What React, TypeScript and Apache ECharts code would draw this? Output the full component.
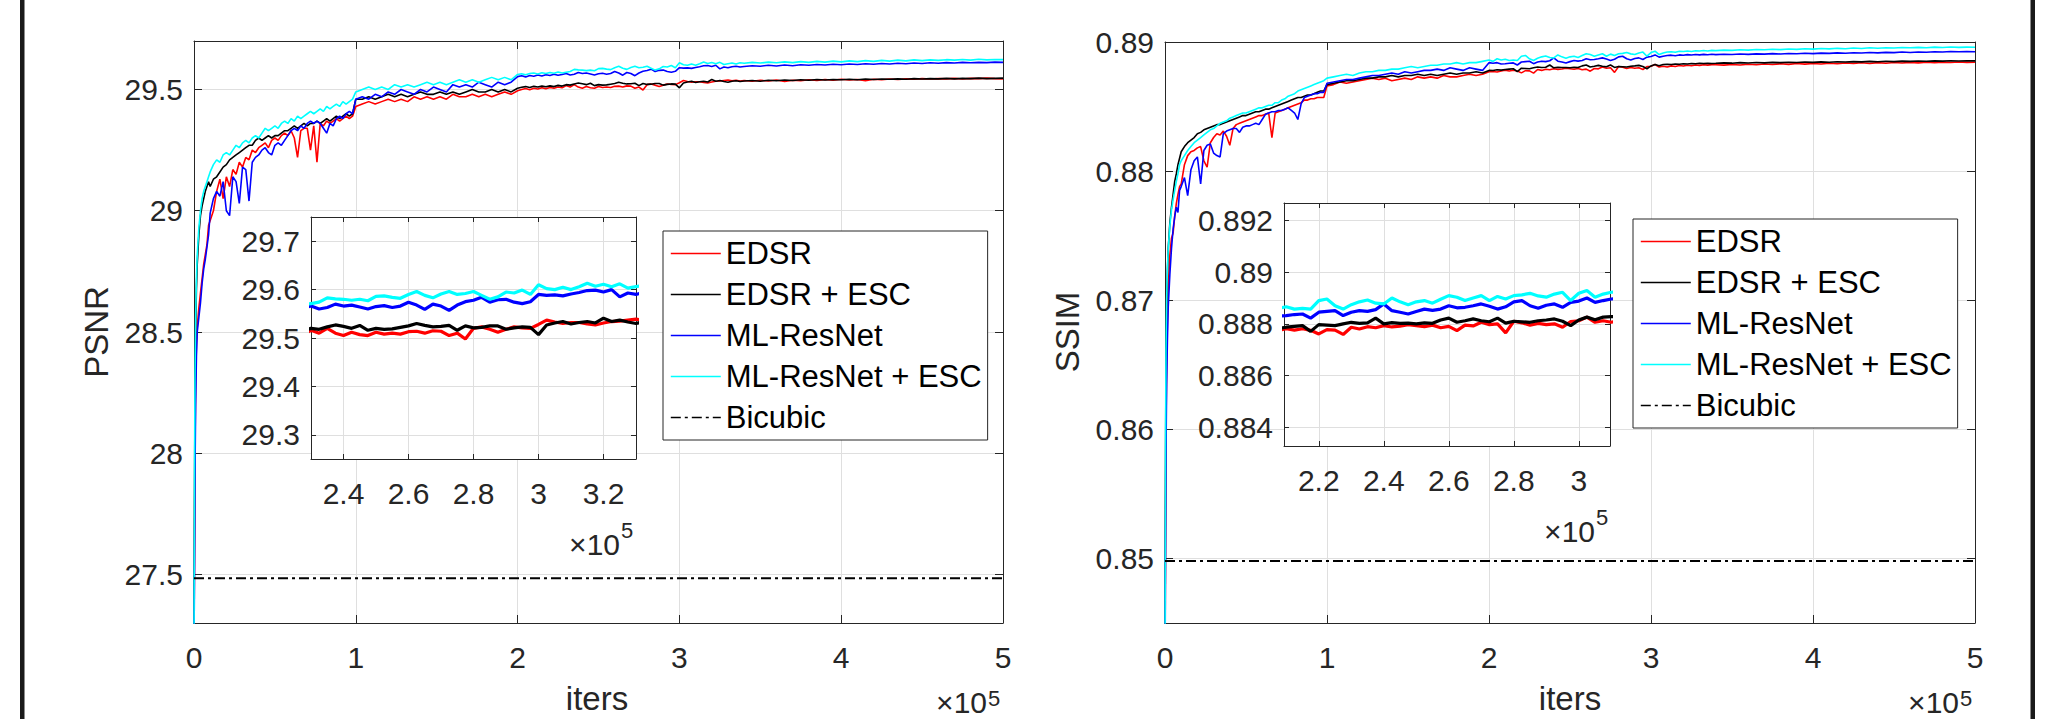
import React, { useEffect, useRef } from 'react';
import * as echarts from 'echarts';

// iterations, in units of 1e5
const ITERS = [
  0, 0.003, 0.006, 0.01, 0.015, 0.02, 0.03, 0.04, 0.05, 0.06, 0.07, 0.08, 0.09,
  0.1, 0.12, 0.14, 0.16, 0.18, 0.2, 0.22, 0.24, 0.26, 0.28, 0.3, 0.32, 0.34, 0.36, 0.38, 0.4, 0.42, 0.44, 0.46, 0.48, 0.5, 0.52, 0.54, 0.56, 0.58, 0.6, 0.62, 0.64, 0.66, 0.68, 0.7, 0.72, 0.74, 0.76, 0.78, 0.8, 0.82, 0.84, 0.86, 0.88, 0.9, 0.92, 0.94, 0.96, 0.98,
  1, 1.04, 1.08, 1.12, 1.16, 1.2, 1.24, 1.28, 1.32, 1.36, 1.4, 1.44, 1.48, 1.52, 1.56, 1.6, 1.64, 1.68, 1.72, 1.76, 1.8, 1.84, 1.88, 1.92, 1.96,
  2, 2.025, 2.05, 2.075, 2.1, 2.125, 2.15, 2.175, 2.2, 2.225, 2.25, 2.275, 2.3, 2.325, 2.35, 2.375, 2.4, 2.425, 2.45, 2.475, 2.5, 2.525, 2.55, 2.575, 2.6, 2.625, 2.65, 2.675, 2.7, 2.725, 2.75, 2.775, 2.8, 2.825, 2.85, 2.875, 2.9, 2.925, 2.95, 2.975, 3, 3.025, 3.05, 3.075, 3.1, 3.125, 3.15, 3.175, 3.2, 3.225, 3.25, 3.275, 3.3, 3.325, 3.35, 3.375,
  3.4, 3.45, 3.5, 3.55, 3.6, 3.65, 3.7, 3.75, 3.8, 3.85, 3.9, 3.95, 4, 4.05, 4.1, 4.15, 4.2, 4.25, 4.3, 4.35, 4.4, 4.45, 4.5, 4.55, 4.6, 4.65, 4.7, 4.75, 4.8, 4.85, 4.9, 4.95, 5,
];

const PSNR_EDSR = [
  27.2, 27.6, 28.0, 28.3, 28.45, 28.52, 28.6, 28.66, 28.72, 28.78, 28.82, 28.86, 28.94,
  28.96, 29.0, 29.08, 29.13, 29.05, 29.14, 29.1, 29.17, 29.15, 29.2, 29.18, 29.22, 29.21, 29.25, 29.24, 29.26, 29.27, 29.28, 29.26, 29.29, 29.3, 29.29, 29.31, 29.32, 29.31, 29.33, 29.3, 29.22, 29.33, 29.34, 29.34, 29.25, 29.35, 29.2, 29.36, 29.35, 29.37, 29.36, 29.37, 29.38, 29.37, 29.38, 29.39, 29.38, 29.39,
  29.43, 29.44, 29.45, 29.44, 29.45, 29.46, 29.45, 29.46, 29.45, 29.47, 29.46, 29.47, 29.46, 29.47, 29.46, 29.48, 29.47, 29.47, 29.48, 29.47, 29.48, 29.47, 29.48, 29.49, 29.48,
  29.495, 29.5, 29.504, 29.499, 29.505, 29.502, 29.507, 29.503, 29.508, 29.505, 29.51, 29.507,
  29.516, 29.51, 29.52, 29.51, 29.505, 29.512, 29.507, 29.505, 29.512, 29.508, 29.51, 29.508,
  29.513, 29.514, 29.51, 29.515, 29.514, 29.505, 29.51, 29.498, 29.52, 29.523, 29.518, 29.512,
  29.518, 29.523, 29.521, 29.52, 29.528, 29.537, 29.533, 29.53, 29.532, 29.532, 29.529, 29.527,
  29.531, 29.534, 29.535, 29.537, 29.539, 29.536, 29.538, 29.535,
  29.537, 29.534, 29.538, 29.535, 29.539, 29.533, 29.538, 29.536, 29.54, 29.537, 29.541, 29.538, 29.542, 29.539, 29.541, 29.536, 29.542, 29.54, 29.543, 29.541, 29.544, 29.542, 29.545, 29.543, 29.545, 29.544, 29.546, 29.543, 29.546, 29.545, 29.547, 29.545, 29.544,
];

const PSNR_EDSR_ESC = [
  27.2, 27.8, 28.2, 28.5, 28.68, 28.78, 28.9, 28.98, 29.02, 29.05, 29.08, 29.1, 29.12,
  29.1, 29.13, 29.14, 29.16, 29.18, 29.19, 29.21, 29.22, 29.23, 29.24, 29.25, 29.26, 29.27, 29.27, 29.29, 29.3, 29.29, 29.3, 29.31, 29.3, 29.31, 29.31, 29.32, 29.33, 29.33, 29.34, 29.35, 29.34, 29.35, 29.36, 29.35, 29.36, 29.36, 29.37, 29.36, 29.37, 29.38, 29.37, 29.38, 29.39, 29.38, 29.39, 29.4, 29.39, 29.4,
  29.46, 29.46, 29.47, 29.46, 29.47, 29.48, 29.47, 29.48, 29.47, 29.48, 29.49, 29.48, 29.48, 29.49, 29.48, 29.49, 29.48, 29.49, 29.5, 29.49, 29.49, 29.5, 29.49, 29.5, 29.49,
  29.505, 29.509, 29.512, 29.508, 29.513, 29.51, 29.514, 29.511, 29.515, 29.512, 29.517, 29.514,
  29.52, 29.518, 29.523, 29.527, 29.524, 29.52, 29.526, 29.516, 29.52, 29.518, 29.519, 29.522,
  29.525, 29.53, 29.526, 29.523, 29.524, 29.526, 29.516, 29.525, 29.521, 29.522, 29.525, 29.525,
  29.518, 29.521, 29.523, 29.522, 29.507, 29.527, 29.531, 29.534, 29.529, 29.532, 29.534, 29.531,
  29.541, 29.534, 29.537, 29.533, 29.53, 29.534, 29.536, 29.533,
  29.535, 29.537, 29.534, 29.538, 29.536, 29.539, 29.537, 29.54, 29.538, 29.541, 29.539, 29.541, 29.54, 29.542, 29.54, 29.543, 29.541, 29.543, 29.542, 29.544, 29.542, 29.545, 29.543, 29.545, 29.544, 29.546, 29.544, 29.546, 29.545, 29.547, 29.545, 29.546, 29.547,
];

const PSNR_MLRES = [
  27.2, 27.5, 27.9, 28.2, 28.4, 28.5, 28.56, 28.62, 28.7, 28.76, 28.8, 28.85, 28.9,
  28.99, 29.05, 29.08, 29.06, 29.12, 29.0, 28.98, 29.14, 29.12, 29.03, 29.18, 29.17, 29.04, 29.2, 29.22, 29.23, 29.25, 29.26, 29.24, 29.23, 29.27, 29.28, 29.27, 29.29, 29.31, 29.33, 29.34, 29.33, 29.35, 29.34, 29.36, 29.37, 29.36, 29.37, 29.36, 29.34, 29.32, 29.36, 29.35, 29.38, 29.39, 29.38, 29.4, 29.41, 29.4,
  29.46, 29.47, 29.46, 29.48, 29.47, 29.49, 29.48, 29.5, 29.49, 29.48, 29.5, 29.49, 29.51, 29.5, 29.49, 29.52, 29.51, 29.52, 29.51, 29.53, 29.52, 29.51, 29.53, 29.52, 29.53,
  29.553, 29.557, 29.552, 29.558, 29.555, 29.56, 29.556, 29.561, 29.558, 29.563, 29.559, 29.562,
  29.566, 29.56, 29.563, 29.57, 29.566, 29.568, 29.564, 29.56, 29.565, 29.567, 29.563, 29.566,
  29.574, 29.568, 29.559, 29.57, 29.566, 29.557, 29.568, 29.575, 29.578, 29.584, 29.574, 29.579,
  29.58, 29.574, 29.571, 29.575, 29.59, 29.588, 29.589, 29.587, 29.591, 29.594, 29.598, 29.599,
  29.595, 29.6, 29.585, 29.593, 29.59, 29.594, 29.596, 29.593,
  29.595, 29.598, 29.596, 29.6, 29.597, 29.601, 29.598, 29.602, 29.6, 29.603, 29.601, 29.604, 29.602, 29.605, 29.603, 29.606, 29.604, 29.607, 29.605, 29.608, 29.606, 29.609, 29.607, 29.61, 29.608, 29.611, 29.609, 29.612, 29.61, 29.612, 29.611, 29.613, 29.612,
];

const PSNR_MLRES_ESC = [
  27.2, 27.9, 28.3, 28.55, 28.72, 28.82, 28.93, 29.0, 29.05, 29.08, 29.1, 29.12, 29.14,
  29.16, 29.19, 29.21, 29.2, 29.23, 29.24, 29.23, 29.25, 29.27, 29.26, 29.28, 29.29, 29.28, 29.3, 29.31, 29.3, 29.32, 29.34, 29.33, 29.34, 29.35, 29.34, 29.36, 29.37, 29.36, 29.38, 29.37, 29.39, 29.38, 29.39, 29.4, 29.41, 29.4, 29.41, 29.42, 29.41, 29.43, 29.42, 29.43, 29.44, 29.43, 29.45, 29.44, 29.45, 29.46,
  29.49, 29.5, 29.51, 29.5, 29.51, 29.5, 29.52, 29.51, 29.52, 29.51, 29.52, 29.53, 29.52, 29.53, 29.52, 29.53, 29.54, 29.53, 29.54, 29.53, 29.54, 29.55, 29.54, 29.55, 29.54,
  29.562, 29.565, 29.561, 29.566, 29.568, 29.564, 29.569, 29.566, 29.57, 29.567, 29.572, 29.568,
  29.571, 29.574, 29.583, 29.581, 29.58, 29.578, 29.58, 29.577, 29.586, 29.587, 29.584, 29.582,
  29.59, 29.596, 29.588, 29.583, 29.591, 29.596, 29.59, 29.592, 29.596, 29.588, 29.58, 29.585,
  29.595, 29.593, 29.599, 29.59, 29.61, 29.602, 29.6, 29.605, 29.6, 29.606, 29.613, 29.607,
  29.611, 29.606, 29.612, 29.603, 29.606, 29.609, 29.605, 29.61,
  29.608, 29.612, 29.609, 29.613, 29.61, 29.614, 29.611, 29.615, 29.612, 29.616, 29.613, 29.617, 29.614, 29.618, 29.615, 29.619, 29.616, 29.62, 29.617, 29.621, 29.618, 29.622, 29.619, 29.622, 29.62, 29.623, 29.621, 29.624, 29.621, 29.625, 29.622, 29.624, 29.623,
];

const SSIM_EDSR = [
  0.84, 0.852, 0.86, 0.865, 0.8685, 0.871, 0.8735, 0.8748, 0.8752, 0.8765, 0.8775, 0.8782, 0.8788,
  0.879, 0.8805, 0.8812, 0.8815, 0.8816, 0.8818, 0.8819, 0.8808, 0.8803, 0.8822, 0.8826, 0.8829, 0.8828, 0.8831, 0.8827, 0.882, 0.8833, 0.8836, 0.8837, 0.8838, 0.8839, 0.884, 0.8841, 0.8842, 0.8843, 0.8843, 0.8844, 0.8845, 0.8826, 0.8845, 0.8846, 0.8847, 0.8848, 0.8849, 0.885, 0.8851, 0.8852, 0.8853, 0.8855, 0.8855, 0.8856, 0.8856, 0.8857, 0.8857, 0.8857,
  0.8866, 0.8867, 0.8869, 0.8868, 0.8869, 0.887, 0.8871, 0.8872, 0.8871, 0.8872, 0.887, 0.8871, 0.8872, 0.8871, 0.8873, 0.8872, 0.8873, 0.8872, 0.8874, 0.8873, 0.8873, 0.8874, 0.8875, 0.8874, 0.8875,
  0.8877, 0.88772, 0.88768, 0.88775, 0.88781, 0.88776, 0.88781, 0.88775, 0.88761, 0.88778, 0.88776, 0.88759,
  0.88787, 0.8878, 0.88789, 0.88785, 0.88793, 0.88788, 0.88791, 0.88797, 0.88793, 0.88789, 0.88795, 0.88785,
  0.8879, 0.88774, 0.88795, 0.88792, 0.88806, 0.88797, 0.888, 0.88765, 0.8881, 0.88804, 0.88795, 0.88802,
  0.88797, 0.888, 0.88787, 0.88809, 0.88812, 0.88826, 0.88806, 0.88812, 0.88806, 0.88815, 0.8881, 0.88818,
  0.88814, 0.8882, 0.88816, 0.88822, 0.88819, 0.88824, 0.88821, 0.88825,
  0.88824, 0.88821, 0.88826, 0.88822, 0.88828, 0.88824, 0.8883, 0.88826, 0.88831, 0.88827, 0.88833, 0.88829, 0.88834, 0.8883, 0.88836, 0.88831, 0.88837, 0.88833, 0.88839, 0.88834, 0.8884, 0.88836, 0.88841, 0.88837, 0.88842, 0.88838, 0.88843, 0.8884, 0.88844, 0.88841, 0.88845, 0.88842, 0.88843,
];

const SSIM_EDSR_ESC = [
  0.84, 0.856, 0.865, 0.8695, 0.8722, 0.874, 0.876, 0.8772, 0.8782, 0.8792, 0.8798, 0.8805, 0.881,
  0.8815, 0.8819, 0.8822, 0.8824, 0.8826, 0.8829, 0.883, 0.8832, 0.8833, 0.8834, 0.8835, 0.8836, 0.8836, 0.8837, 0.8838, 0.8839, 0.884, 0.8841, 0.8842, 0.8843, 0.8843, 0.8844, 0.8845, 0.8846, 0.8846, 0.8847, 0.8848, 0.8848, 0.8849, 0.885, 0.8851, 0.8852, 0.8853, 0.8854, 0.8855, 0.8856, 0.8857, 0.8857, 0.8858, 0.8859, 0.8859, 0.886, 0.8861, 0.8862, 0.8862,
  0.8867, 0.8868, 0.8869, 0.887, 0.887, 0.8871, 0.8872, 0.8872, 0.8873, 0.8873, 0.8874, 0.8873, 0.8874, 0.8874, 0.8875, 0.8874, 0.8875, 0.8874, 0.8875, 0.8876, 0.8875, 0.8876, 0.8876, 0.8877, 0.8876,
  0.8878, 0.88779, 0.88785, 0.88782, 0.88787, 0.8879, 0.88793, 0.88771, 0.88797, 0.88795, 0.88793, 0.888,
  0.88806, 0.88802, 0.88804, 0.88822, 0.888, 0.88805, 0.88802, 0.88803, 0.888, 0.88804, 0.88802, 0.88815,
  0.88822, 0.88806, 0.88812, 0.88819, 0.88812, 0.88808, 0.88822, 0.88803, 0.8881, 0.88808, 0.88806, 0.88812,
  0.88815, 0.88819, 0.8881, 0.88793, 0.88815, 0.88826, 0.88816, 0.88826, 0.88828, 0.88826, 0.8883, 0.88828,
  0.88832, 0.8883, 0.88834, 0.88831, 0.88835, 0.88833, 0.88836, 0.88834,
  0.88835, 0.88838, 0.88836, 0.8884, 0.88837, 0.88841, 0.88838, 0.88842, 0.8884, 0.88843, 0.88841, 0.88845, 0.88842, 0.88846, 0.88843, 0.88847, 0.88845, 0.88848, 0.88846, 0.8885, 0.88847, 0.88851, 0.88848, 0.88852, 0.8885, 0.88853, 0.88851, 0.88854, 0.88852, 0.88855, 0.88853, 0.88855, 0.88854,
];

const SSIM_MLRES = [
  0.84, 0.85, 0.858, 0.8635, 0.867, 0.8695, 0.872, 0.874, 0.8755, 0.8765, 0.8772, 0.8768, 0.8785,
  0.8788, 0.8795, 0.8781, 0.8801, 0.8808, 0.8811, 0.879, 0.8816, 0.882, 0.8821, 0.8814, 0.8812, 0.8811, 0.8829, 0.8831, 0.8832, 0.8833, 0.8833, 0.883, 0.8834, 0.8835, 0.8835, 0.8836, 0.8837, 0.8836, 0.884, 0.8844, 0.8845, 0.8846, 0.8846, 0.8847, 0.8847, 0.8848, 0.8849, 0.8847, 0.8845, 0.884, 0.8852, 0.8857, 0.8858, 0.8859, 0.886, 0.886, 0.8861, 0.8861,
  0.8868, 0.8869, 0.887, 0.8871, 0.8871, 0.8872, 0.8873, 0.8874, 0.8874, 0.8875, 0.8876, 0.8875, 0.8877, 0.8876, 0.8877, 0.8878, 0.8878, 0.8879, 0.8878, 0.888, 0.8879, 0.8878, 0.888, 0.8879, 0.8878,
  0.8884, 0.88835, 0.8884, 0.8883, 0.88832, 0.88836, 0.88838, 0.88822, 0.88845, 0.88848, 0.88851, 0.88832,
  0.88845, 0.88851, 0.88848, 0.88855, 0.88877, 0.88851, 0.88845, 0.88838, 0.88848, 0.88857, 0.88852, 0.88857,
  0.8887, 0.88862, 0.88864, 0.8887, 0.88877, 0.88868, 0.88857, 0.88866, 0.88885, 0.8889, 0.8887, 0.8886,
  0.88872, 0.88877, 0.88864, 0.88883, 0.88888, 0.889, 0.88883, 0.8889, 0.88896, 0.88898, 0.88894, 0.889,
  0.88897, 0.88902, 0.88899, 0.88903, 0.889, 0.88904, 0.88901, 0.88905,
  0.88902, 0.88905, 0.88903, 0.88907, 0.88904, 0.88908, 0.88906, 0.8891, 0.88907, 0.88911, 0.88909, 0.88913, 0.8891, 0.88914, 0.88912, 0.88916, 0.88913, 0.88917, 0.88915, 0.88919, 0.88916, 0.8892, 0.88918, 0.88922, 0.88919, 0.88923, 0.88921, 0.88925, 0.88922, 0.88926, 0.88924, 0.88927, 0.88925,
];

const SSIM_MLRES_ESC = [
  0.84, 0.858, 0.866, 0.87, 0.8725, 0.874, 0.8758, 0.877, 0.8778, 0.8785, 0.8792, 0.8798, 0.8805,
  0.8808, 0.8812, 0.8816, 0.8819, 0.8822, 0.8824, 0.8826, 0.8828, 0.883, 0.8832, 0.8833, 0.8835, 0.8837, 0.8838, 0.8839, 0.8841, 0.8842, 0.8843, 0.8844, 0.8845, 0.8845, 0.8846, 0.8847, 0.8848, 0.8849, 0.8849, 0.885, 0.8851, 0.8851, 0.8853, 0.8853, 0.8855, 0.8856, 0.8858, 0.8859, 0.886, 0.8862, 0.8863, 0.8864, 0.8865, 0.8866, 0.8867, 0.8868, 0.8869, 0.887,
  0.8872, 0.8873, 0.8874, 0.8875, 0.8874, 0.8876, 0.8877, 0.8877, 0.8878, 0.8878, 0.8879, 0.8879, 0.888, 0.8881, 0.888, 0.8881, 0.8882, 0.8882, 0.8883, 0.8883, 0.8884, 0.8883, 0.8884, 0.8884, 0.8885,
  0.8886, 0.8885, 0.8887, 0.8886, 0.88866, 0.88857, 0.8886, 0.88857, 0.8889, 0.88896, 0.8887, 0.88857,
  0.88874, 0.88885, 0.88892, 0.8888, 0.88877, 0.889, 0.88885, 0.88874, 0.88885, 0.8889, 0.8888, 0.88895,
  0.88909, 0.88903, 0.8889, 0.889, 0.88909, 0.8889, 0.88906, 0.88896, 0.88909, 0.88912, 0.88918, 0.88908,
  0.88903, 0.88915, 0.88922, 0.8889, 0.88918, 0.88929, 0.88903, 0.88915, 0.88922, 0.88925, 0.8892, 0.88928,
  0.88926, 0.8893, 0.88927, 0.88932, 0.8893, 0.88934, 0.8893, 0.88935,
  0.88933, 0.88937, 0.88935, 0.8894, 0.88937, 0.88942, 0.8894, 0.88944, 0.88941, 0.88946, 0.88943, 0.88948, 0.88945, 0.8895, 0.88947, 0.88951, 0.88948, 0.88953, 0.8895, 0.88955, 0.88952, 0.88956, 0.88953, 0.88957, 0.88955, 0.88958, 0.88956, 0.8896, 0.88957, 0.88961, 0.88958, 0.8896, 0.88959,
];

const BICUBIC_PSNR = 27.485;
const BICUBIC_SSIM = 0.8498;

const SERIES_NAMES = ['EDSR', 'EDSR + ESC', 'ML-ResNet', 'ML-ResNet + ESC', 'Bicubic'];
const SERIES_COLORS = ['#ff0000', '#000000', '#0000ff', '#00ffff', '#000000'];

const ITER_TICKS = [0, 1, 2, 3, 4, 5];
const PSNR_TICKS = [27.5, 28, 28.5, 29, 29.5];
const PSNR_INSET_X_TICKS = [2.4, 2.6, 2.8, 3, 3.2];
const PSNR_INSET_Y_TICKS = [29.3, 29.4, 29.5, 29.6, 29.7];
const SSIM_TICKS = [0.85, 0.86, 0.87, 0.88, 0.89];
const SSIM_INSET_X_TICKS = [2.2, 2.4, 2.6, 2.8, 3];
const SSIM_INSET_Y_TICKS = [0.884, 0.886, 0.888, 0.89, 0.892];

const FONT = '"Liberation Sans", Arial, Helvetica, sans-serif';
const AX = '#262626';
const GRIDC = '#dfdfdf';

const fmt = (v: number) => String(Number(Number(v).toPrecision(6)));

function makeXAxes(gi: number, min: number, max: number, ticks: number[], tickLen: number, z: number) {
  const common = {
    type: 'value', gridIndex: gi, min, max, z,
    axisLine: { show: true, onZero: false, lineStyle: { color: AX, width: 1 } },
    axisTick: { show: true, inside: true, length: tickLen, customValues: ticks, lineStyle: { color: AX, width: 1 } },
  };
  return [
    {
      ...common, position: 'bottom',
      axisLabel: { show: true, customValues: ticks, formatter: fmt, margin: 19, color: AX, fontSize: 30, fontFamily: FONT, hideOverlap: false },
      splitLine: { show: true, lineStyle: { color: GRIDC, width: 1 } },
    },
    { ...common, position: 'top', axisLabel: { show: false }, splitLine: { show: false } },
  ];
}

function makeYAxes(gi: number, min: number, max: number, ticks: number[], tickLen: number, z: number) {
  const common = {
    type: 'value', gridIndex: gi, min, max, z, scale: true,
    axisLine: { show: true, onZero: false, lineStyle: { color: AX, width: 1 } },
    axisTick: { show: true, inside: true, length: tickLen, customValues: ticks, lineStyle: { color: AX, width: 1 } },
  };
  return [
    {
      ...common, position: 'left',
      axisLabel: { show: true, customValues: ticks, formatter: fmt, margin: 11, color: AX, fontSize: 30, fontFamily: FONT, hideOverlap: false },
      splitLine: { show: true, lineStyle: { color: GRIDC, width: 1 } },
    },
    { ...common, position: 'right', axisLabel: { show: false }, splitLine: { show: false } },
  ];
}

const pairs = (ys: number[]) => ITERS.map((x, i) => [x, ys[i]]);

function makeSeries(values: number[][], bicubic: number, mainGrid: number, insetGrid: number) {
  const out: any[] = [];
  values.forEach((ys, k) => {
    out.push({
      type: 'line', name: SERIES_NAMES[k], data: pairs(ys),
      xAxisIndex: mainGrid * 2, yAxisIndex: mainGrid * 2,
      showSymbol: false, symbol: 'none', silent: true, clip: true, z: 2 + k,
      lineStyle: { color: SERIES_COLORS[k], width: 1.6 }, itemStyle: { color: SERIES_COLORS[k] },
    });
  });
  out.push({
    type: 'line', name: SERIES_NAMES[4],
    data: [[ITERS[0], bicubic], [ITERS[ITERS.length - 1], bicubic]],
    xAxisIndex: mainGrid * 2, yAxisIndex: mainGrid * 2,
    showSymbol: false, symbol: 'none', silent: true, clip: true, z: 6,
    lineStyle: { color: SERIES_COLORS[4], width: 2, type: [10, 4, 3, 4] }, itemStyle: { color: SERIES_COLORS[4] },
  });
  values.forEach((ys, k) => {
    out.push({
      type: 'line', name: SERIES_NAMES[k], data: pairs(ys),
      xAxisIndex: insetGrid * 2, yAxisIndex: insetGrid * 2,
      showSymbol: false, symbol: 'none', silent: true, clip: true, z: 12 + k,
      lineStyle: { color: SERIES_COLORS[k], width: 3.2 }, itemStyle: { color: SERIES_COLORS[k] },
    });
  });
  return out;
}

function makeLegend(left: number, top: number) {
  return {
    show: true, orient: 'vertical', left, top, z: 20,
    data: SERIES_NAMES, selectedMode: false,
    itemWidth: 50, itemHeight: 14, itemGap: 10,
    padding: [7, 6, 7, 7],
    backgroundColor: '#ffffff', borderColor: AX, borderWidth: 1, borderRadius: 0,
    textStyle: { fontSize: 31, color: '#000000', fontFamily: FONT, lineHeight: 31 },
    itemStyle: { opacity: 0, borderWidth: 0 },
    lineStyle: { width: 1.6, opacity: 1 },
  };
}

function textEl(text: string, x: number, y: number, size: number, align: string, opts: any = {}) {
  return {
    type: 'text', x, y, z: 30, silent: true, ...opts,
    style: { text, fontSize: size, fontFamily: FONT, fill: AX, align, verticalAlign: 'middle' },
  };
}

export default function App() {
  const ref = useRef<HTMLDivElement>(null);
  useEffect(() => {
    document.body.style.margin = '0';
    if (!ref.current) return;
    const chart = echarts.init(ref.current, null, { renderer: 'svg' });
    const option: any = {
      animation: false,
      backgroundColor: '#ffffff',
      textStyle: { fontFamily: FONT },
      grid: [
        { left: 194, top: 41, width: 809, height: 582, show: false, z: 0, outerBoundsMode: 'none' },
        { left: 311, top: 217, width: 325, height: 242, show: true, backgroundColor: '#ffffff', borderWidth: 0, z: 10, outerBoundsMode: 'none' },
        { left: 1165, top: 42, width: 810, height: 581, show: false, z: 0, outerBoundsMode: 'none' },
        { left: 1284, top: 203, width: 326, height: 243, show: true, backgroundColor: '#ffffff', borderWidth: 0, z: 10, outerBoundsMode: 'none' },
      ],
      xAxis: [
        ...makeXAxes(0, 0, 5, ITER_TICKS, 8, 1),
        ...makeXAxes(1, 2.3, 3.3, PSNR_INSET_X_TICKS, 5, 11),
        ...makeXAxes(2, 0, 5, ITER_TICKS, 8, 1),
        ...makeXAxes(3, 2.093, 3.096, SSIM_INSET_X_TICKS, 5, 11),
      ],
      yAxis: [
        ...makeYAxes(0, 27.3, 29.7, PSNR_TICKS, 8, 1),
        ...makeYAxes(1, 29.25, 29.75, PSNR_INSET_Y_TICKS, 5, 11),
        ...makeYAxes(2, 0.845, 0.89, SSIM_TICKS, 8, 1),
        ...makeYAxes(3, 0.88328, 0.89267, SSIM_INSET_Y_TICKS, 5, 11),
      ],
      legend: [makeLegend(663, 231), makeLegend(1633, 219)],
      series: [
        ...makeSeries([PSNR_EDSR, PSNR_EDSR_ESC, PSNR_MLRES, PSNR_MLRES_ESC], BICUBIC_PSNR, 0, 1),
        ...makeSeries([SSIM_EDSR, SSIM_EDSR_ESC, SSIM_MLRES, SSIM_MLRES_ESC], BICUBIC_SSIM, 2, 3),
      ],
      graphic: [
        { type: 'rect', shape: { x: 20, y: 0, width: 4.5, height: 719 }, style: { fill: '#1a1a1a' }, z: 30, silent: true },
        { type: 'rect', shape: { x: 2030.5, y: 0, width: 4.5, height: 719 }, style: { fill: '#1a1a1a' }, z: 30, silent: true },
        textEl('PSNR', 96, 332, 33, 'center', { rotation: Math.PI / 2 }),
        textEl('SSIM', 1067, 332, 33, 'center', { rotation: Math.PI / 2 }),
        textEl('iters', 597, 698, 33, 'center'),
        textEl('iters', 1570, 698, 33, 'center'),
        textEl('\u00d710', 987, 702.5, 30, 'right'),
        textEl('5', 988, 698.5, 22, 'left'),
        textEl('\u00d710', 1959, 702.5, 30, 'right'),
        textEl('5', 1960, 698.5, 22, 'left'),
        textEl('\u00d710', 620, 544.6, 30, 'right'),
        textEl('5', 621, 530.7, 22, 'left'),
        textEl('\u00d710', 1595, 531.6, 30, 'right'),
        textEl('5', 1596, 517.7, 22, 'left'),
      ],
    };
    chart.setOption(option);
    return () => chart.dispose();
  }, []);
  return <div ref={ref} style={{ width: 2054, height: 719 }} />;
}
